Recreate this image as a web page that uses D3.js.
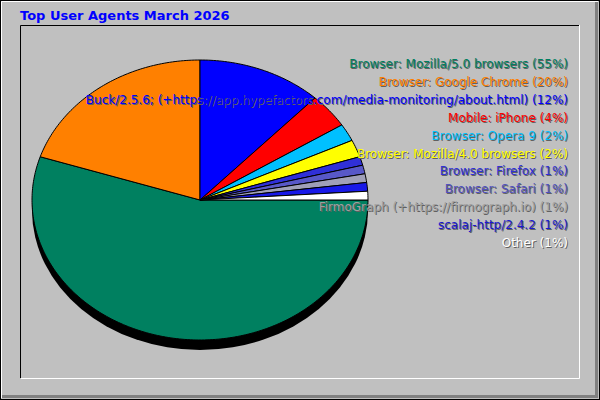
<!DOCTYPE html><html><head><meta charset="utf-8">
<script src="https://cdn.jsdelivr.net/npm/d3@7"></script>
<style>body{margin:0;background:#fff}text{font-family:"DejaVu Sans",sans-serif}</style></head><body>
<svg id="c" width="600" height="400"></svg>
<script>
const labels=["Browser: Mozilla/5.0 browsers","Browser: Google Chrome","Buck/2.5.6; (+https://app.hypefactors.com/media-monitoring/about.html)","Mobile: iPhone","Browser: Opera 9","Browser: Mozilla/4.0 browsers","Browser: Firefox","Browser: Safari","FirmoGraph (+https://firmograph.io)","scalaj-http/2.4.2","Other"];
const values=[55,20,12,4,2,2,1,1,1,1,1];
const colors=["#008060","#ff8000","#0000ff","#ff0000","#00c0ff","#ffff00","#3030d8","#5858c8","#a0a0b8","#1818e8","#ffffff"];
const textColors=["#008060","#ff8000","#0000ff","#ff0000","#00c0ff","#ffff00","#3030d8","#5050c0","#a0a0a0","#1818d0","#ffffff"];
const svg=d3.select("#c");
svg.append("rect").attr("x",0.5).attr("y",0.5).attr("width",599).attr("height",399).attr("fill","#c0c0c0").attr("stroke","#000");
svg.append("path").attr("d","M1.5,398V1.5H598").attr("fill","none").attr("stroke","#fff");
svg.append("path").attr("d","M2,396.5H596.5V2").attr("fill","none").attr("stroke","#808080").attr("stroke-width",3);
svg.append("path").attr("d","M20.5,378V25.5H579").attr("fill","none").attr("stroke","#000");
svg.append("path").attr("d","M21,378.5H579.5V25").attr("fill","none").attr("stroke","#fff");
svg.append("text").attr("x",20).attr("y",20).attr("fill","#0000ff").attr("font-weight","bold").attr("font-size",13).text("Top User Agents March 2026");
const cx=200,cy=200,rx=168,ry=140,depth=10;
svg.append("ellipse").attr("cx",cx).attr("cy",cy+depth).attr("rx",rx).attr("ry",ry).attr("fill","#000");
const pie=d3.pie().sort(null).startAngle(Math.PI/2).endAngle(Math.PI/2+2*Math.PI)(values);
const pt=a=>[cx+rx*Math.sin(a),cy-ry*Math.cos(a)];
pie.forEach((d,i)=>{
  const n=Math.max(4,Math.ceil((d.endAngle-d.startAngle)*60));
  let p=`M${cx},${cy}`;
  for(let k=0;k<=n;k++){const a=d.startAngle+(d.endAngle-d.startAngle)*k/n;const q=pt(a);p+=`L${q[0]},${q[1]}`;}
  svg.append("path").attr("d",p+"Z").attr("fill",colors[i]).attr("stroke","#000").attr("stroke-width",1).attr("stroke-linejoin","round");
});
const y=d3.scalePoint().domain(d3.range(labels.length)).range([68,247]);
labels.forEach((l,i)=>{
  const t=`${l} (${values[i]}%)`;
  svg.append("text").attr("x",569).attr("y",y(i)+1).attr("text-anchor","end").attr("font-size",12).attr("fill","#606060").text(t);
  svg.append("text").attr("x",568).attr("y",y(i)).attr("text-anchor","end").attr("font-size",12).attr("fill",textColors[i]).text(t);
});
</script></body></html>
